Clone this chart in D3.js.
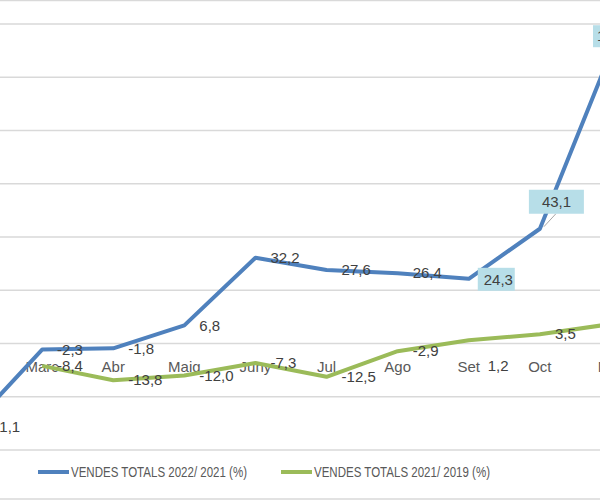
<!DOCTYPE html>
<html>
<head>
<meta charset="utf-8">
<script src="https://cdn.jsdelivr.net/npm/d3@7"></script>
<style>
  html, body { margin: 0; padding: 0; background: #fff; }
  svg { display: block; }
</style>
</head>
<body>
<svg id="chart" width="600" height="500"></svg>
<script>
// ---- data ----
const months = ["Febr", "Marc", "Abr", "Maig", "Juny", "Jul", "Ago", "Set", "Oct", "Nov"];
const sales2022vs2021 = [-31.1, -2.3, -1.8, 6.8, 32.2, 27.6, 26.4, 24.3, 43.1, 109.4];
const sales2021vs2019 = [null, -8.4, -13.8, -12.0, -7.3, -12.5, -2.9, 1.2, 3.5, 7.3];
const seriesNames = ["VENDES TOTALS 2022/ 2021 (%)", "VENDES TOTALS 2021/ 2019 (%)"];
const yTicks = [-40, -20, 0, 20, 40, 60, 80, 100, 120, 140];

const fmt = v => v.toFixed(1).replace(".", ",");

const svg = d3.select("#chart");
const W = 600, H = 500;
const x = d3.scalePoint().domain(months).range([-29, 611]);
const y = d3.scaleLinear().domain([-40, 120]).range([450, 24]);

const blue = "#4f81bd", green = "#9bbb59";
const font = "'Liberation Sans', Arial, sans-serif";

// frame
svg.append("rect").attr("x", -2).attr("y", 0.5).attr("width", W + 4).attr("height", H - 1.5)
  .attr("fill", "none").attr("stroke", "#d9d9d9").attr("stroke-width", 1.5);

// gridlines
svg.append("g").selectAll("line").data(yTicks).join("line")
  .attr("x1", 0).attr("x2", W)
  .attr("y1", d => y(d)).attr("y2", d => y(d))
  .attr("stroke", "#d9d9d9").attr("stroke-width", 1.5);

// category labels
svg.append("g").selectAll("text").data(months).join("text")
  .attr("x", d => x(d)).attr("y", y(0) + 28)
  .attr("text-anchor", "middle")
  .attr("font-family", font).attr("font-size", 15).attr("fill", "#595959")
  .text(d => d);

// lines
const line = d3.line().defined(d => d.v != null).x(d => x(d.m)).y(d => y(d.v));
const s1 = months.map((m, i) => ({ m, v: sales2022vs2021[i] }));
const s2 = months.map((m, i) => ({ m, v: sales2021vs2019[i] }));

svg.append("path").datum(s2).attr("d", line).attr("fill", "none")
  .attr("stroke", green).attr("stroke-width", 4).attr("stroke-linejoin", "round");
svg.append("path").datum(s1).attr("d", line).attr("fill", "none")
  .attr("stroke", blue).attr("stroke-width", 4).attr("stroke-linejoin", "round");

// data labels
const lblColor = "#404040";
function label(m, v, dx, dy) {
  return svg.append("text")
    .attr("x", x(m) + dx).attr("y", y(v) + dy)
    .attr("dy", "0.35em")
    .attr("font-family", font).attr("font-size", 15).attr("fill", lblColor)
    .text(fmt(v));
}
function boxLabel(m, v, bx, by, bw, bh, tx) {
  svg.append("rect").attr("x", x(m) + bx).attr("y", y(v) + by)
    .attr("width", bw).attr("height", bh).attr("fill", "#b7dee8");
  svg.append("text").attr("x", x(m) + tx).attr("y", y(v) + by + bh / 2)
    .attr("dy", "0.35em")
    .attr("font-family", font).attr("font-size", 15).attr("fill", lblColor)
    .text(fmt(v));
}

// blue labels
s1.forEach((d, i) => {
  if (d.m === "Set" || d.m === "Oct" || d.m === "Nov") return;
  label(d.m, d.v, 15, 0);
});
// leader line for Oct
svg.append("line")
  .attr("x1", x("Oct") + 16).attr("y1", y(43.1) - 15)
  .attr("x2", x("Oct") + 4).attr("y2", y(43.1) - 2)
  .attr("stroke", "#a6a6a6").attr("stroke-width", 1);
boxLabel("Set", 24.3, 9, -11, 37, 23, 15);
boxLabel("Oct", 43.1, -11, -39, 55, 24, 2);
boxLabel("Nov", 109.4, -18, -27, 62, 22, -14);

// green labels
s2.forEach(d => {
  if (d.v == null) return;
  if (d.m === "Set") { label(d.m, d.v, 19, 25); return; }
  label(d.m, d.v, 15, 0);
});

// legend
const legY = 472;
const legend = [
  { name: seriesNames[0], color: blue, x0: 38 },
  { name: seriesNames[1], color: green, x0: 281 }
];
const lg = svg.append("g");
legend.forEach(l => {
  lg.append("line").attr("x1", l.x0).attr("x2", l.x0 + 31)
    .attr("y1", legY).attr("y2", legY)
    .attr("stroke", l.color).attr("stroke-width", 4);
  lg.append("text").attr("x", l.x0 + 33).attr("y", legY).attr("dy", "0.35em")
    .attr("font-family", font).attr("font-size", 15).attr("fill", "#595959")
    .attr("textLength", 176).attr("lengthAdjust", "spacingAndGlyphs")
    .text(l.name);
});
</script>
</body>
</html>
